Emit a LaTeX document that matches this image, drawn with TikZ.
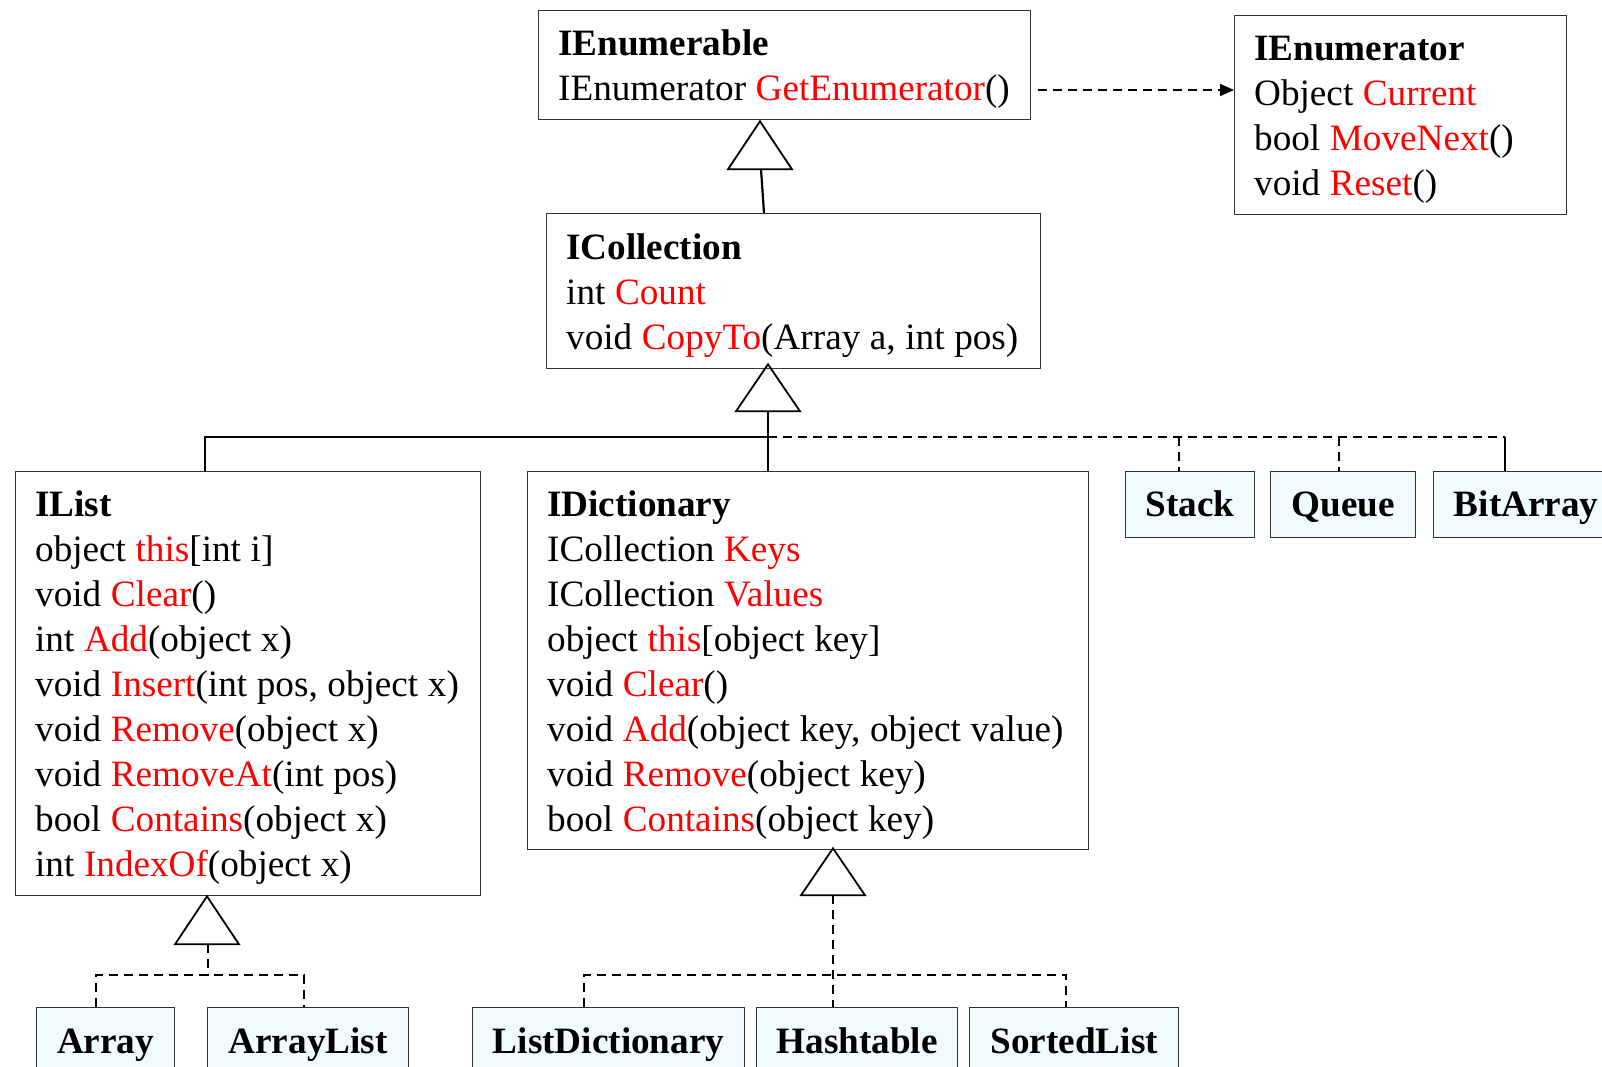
\documentclass[tikz,border=0pt]{standalone}
\usepackage{fontspec}
\setmainfont{Liberation Serif}
\usetikzlibrary{arrows.meta,calc}
\definecolor{memberred}{RGB}{255,0,0}
\definecolor{leaffill}{RGB}{240,251,253}
\definecolor{boxline}{RGB}{50,50,50}
\newcommand{\mem}[1]{\textcolor{memberred}{#1}}
\newcommand{\ttl}[1]{\mbox{\rule{0pt}{34pt}\textbf{#1}}}
% one member line: kept on one line, with the font's own word space
\newcommand{\mline}[1]{\mbox{\spaceskip=9.6pt\xspaceskip=9.6pt\relax #1}}

\begin{document}
\begin{tikzpicture}[x=1pt,y=-1pt,
  iface/.style={draw=boxline,line width=1.3pt,anchor=north west,align=left,
    inner xsep=19.5pt,inner ysep=0pt,font=\fontsize{37.2}{45}\selectfont},
  leaf/.style={draw=boxline,fill=leaffill,line width=1.3pt,anchor=north west,
    inner sep=0pt,minimum height=66pt,text height=24.5pt,text depth=0pt,
    font=\fontsize{37.2}{45}\selectfont\bfseries},
  link/.style={line width=2.2pt},
  realize/.style={line width=1.6pt,dash pattern=on 9pt off 6pt},
  gen/.style={line width=1.8pt,line join=miter}]

\useasboundingbox (0,0) rectangle (1602,1067);

% interfaces
\node[iface,minimum width=492pt,minimum height=109pt,text width=453pt] (enumerable) at (538,10)
  {\ttl{IEnumerable}\\\mline{IEnumerator \mem{GetEnumerator}()}};
\node[iface,minimum width=332pt,minimum height=199pt,text width=293pt] (enumerator) at (1234,15)
  {\ttl{IEnumerator}\\\mline{Object \mem{Current}}\\\mline{bool \mem{MoveNext}()}\\\mline{void \mem{Reset}()}};
\node[iface,minimum width=494pt,minimum height=155pt,text width=455pt] (collection) at (546,213)
  {\ttl{ICollection}\\\mline{int \mem{Count}}\\\mline{void \mem{CopyTo}(Array a, int pos)}};
\node[iface,minimum width=465pt,minimum height=424pt,text width=426pt] (ilist) at (15,471)
  {\ttl{IList}\\\mline{object \mem{this}[int i]}\\\mline{void \mem{Clear}()}\\\mline{int \mem{Add}(object x)}\\
   \mline{void \mem{Insert}(int pos, object x)}\\\mline{void \mem{Remove}(object x)}\\
   \mline{void \mem{RemoveAt}(int pos)}\\\mline{bool \mem{Contains}(object x)}\\\mline{int \mem{IndexOf}(object x)}};
\node[iface,minimum width=561pt,minimum height=378pt,text width=522pt] (dictionary) at (527,471)
  {\ttl{IDictionary}\\\mline{ICollection \mem{Keys}}\\\mline{ICollection \mem{Values}}\\
   \mline{object \mem{this}[object key]}\\\mline{void \mem{Clear}()}\\
   \mline{void \mem{Add}(object key, object value)}\\\mline{void \mem{Remove}(object key)}\\
   \mline{bool \mem{Contains}(object key)}};

% concrete classes
\node[leaf,minimum width=129pt] (stack) at (1125,471) {Stack};
\node[leaf,minimum width=145pt] (queue) at (1270,471) {Queue};
\node[leaf,minimum width=185pt] (bitarray) at (1433,471) {BitArray};
\node[leaf,minimum width=138pt,minimum height=68pt] (array) at (36,1007) {Array};
\node[leaf,minimum width=201pt,minimum height=68pt] (arraylist) at (207,1007) {ArrayList};
\node[leaf,minimum width=272pt,minimum height=68pt] (listdict) at (472,1007) {ListDictionary};
\node[leaf,minimum width=201pt,minimum height=68pt] (hashtable) at (756,1007) {Hashtable};
\node[leaf,minimum width=209pt,minimum height=68pt] (sortedlist) at (969,1007) {SortedList};

% IEnumerable uses IEnumerator
\coordinate (usefrom) at ($(enumerable.north east)+(7,80)$);
\draw[realize,-{Triangle[length=14pt,width=12pt]}] (usefrom) -- (usefrom -| enumerator.west);

% ICollection extends IEnumerable
\coordinate (tipA) at ($(enumerable.south west)+(222,1)$);
\draw[gen] (tipA) -- ++(32,48) -- ++(-64,0) -- cycle;
\draw[link] ($(tipA)+(1,48)$) -- ($(collection.north west)+(218,0)$);

% IList, IDictionary and the collections extend ICollection
\coordinate (tipB) at ($(collection.south west)+(222,-5)$);
\draw[gen] (tipB) -- ++(32,47) -- ++(-64,0) -- cycle;
\coordinate (hub) at ($(dictionary.north west)+(241,-34)$);
\draw[link] ($(tipB)+(0,47)$) -- ($(dictionary.north west)+(241,0)$);
\draw[link] (hub) -| ($(ilist.north west)+(190,0)$);
\draw[realize] (hub) -- ($(bitarray.north west)+(72,-34)$);
\draw[realize] ($(stack.north west)+(54,-34)$) -- ($(stack.north west)+(54,0)$);
\draw[realize] ($(queue.north west)+(69,-34)$) -- ($(queue.north west)+(69,0)$);
\draw[link,line width=1.6pt] ($(bitarray.north west)+(72,-34)$) -- ($(bitarray.north west)+(72,0)$);

% classes implementing IList
\coordinate (tipC) at ($(ilist.south west)+(192,0)$);
\draw[gen] (tipC) -- ++(32,48) -- ++(-64,0) -- cycle;
\draw[realize] ($(tipC)+(1,48)$) -- ($(tipC)+(1,80)$);
\draw[realize] ($(array.north west)+(60,0)$) |- ($(arraylist.north west)+(97,-32)$)
  -- ($(arraylist.north west)+(97,0)$);

% classes implementing IDictionary
\coordinate (tipD) at ($(dictionary.south west)+(306,-2)$);
\draw[gen] (tipD) -- ++(32,47) -- ++(-64,0) -- cycle;
\draw[realize] ($(tipD)+(0,47)$) -- ($(hashtable.north west)+(77,0)$);
\draw[realize] ($(listdict.north west)+(112,0)$) |- ($(sortedlist.north west)+(97,-32)$)
  -- ($(sortedlist.north west)+(97,0)$);

\end{tikzpicture}
\end{document}
